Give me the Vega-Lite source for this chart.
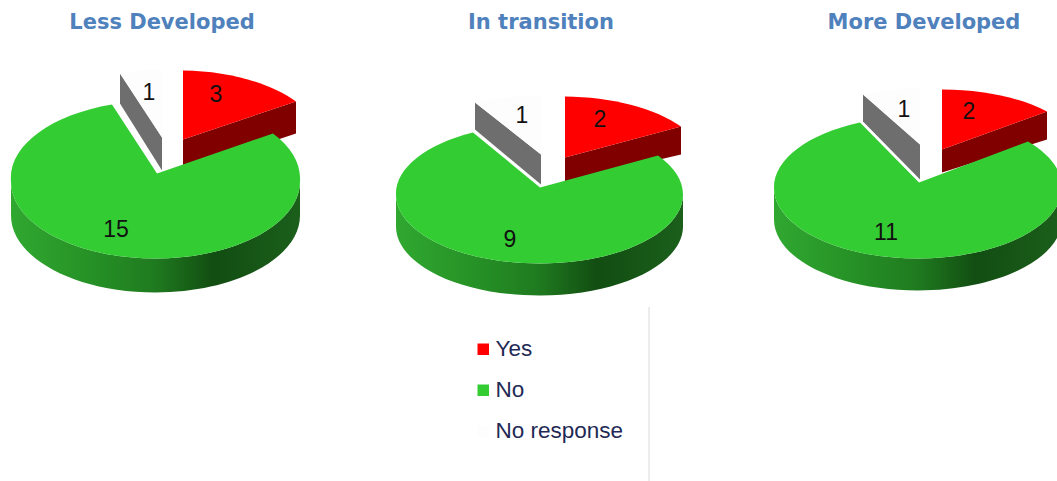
{"$schema":"https://vega.github.io/schema/vega-lite/v6.json","width":1057,"height":481,"padding":0,"autosize":{"type":"fit","contains":"padding"},"background":"white","config":{"view":{"stroke":null}},
"datasets":{"slices":[
{"region":"Less Developed","response":"Yes","count":3},{"region":"Less Developed","response":"No","count":15},{"region":"Less Developed","response":"No response","count":1},
{"region":"In transition","response":"Yes","count":2},{"region":"In transition","response":"No","count":9},{"region":"In transition","response":"No response","count":1},
{"region":"More Developed","response":"Yes","count":2},{"region":"More Developed","response":"No","count":11},{"region":"More Developed","response":"No response","count":1}],
"regions":[{"region":"Less Developed"},{"region":"In transition"},{"region":"More Developed"}]},
"encoding":{"x":{"field":"region","type":"nominal","axis":null,"sort":null,"scale":{"type":"point","domain":["Less Developed","In transition","More Developed"],"range":[162,924],"padding":0}}},
"layer":[
{"data":{"name":"slices"},"transform":[{"filter":"datum.response!='No'"},{"calculate":"datum.region+'|'+datum.response+'|side'","as":"part"}],"mark":{"type":"point","filled":true,"opacity":1,"size":4,"strokeWidth":0},
"encoding":{"shape":{"field":"part","type":"nominal","legend":null,"scale":{"domain":["Less Developed|Yes|side","Less Developed|No response|side","In transition|Yes|side","In transition|No response|side","More Developed|Yes|side","More Developed|No response|side","Less Developed|Yes|top","Less Developed|No response|top","In transition|Yes|top","In transition|No response|top","More Developed|Yes|top","More Developed|No response|top","Less Developed|No|side","In transition|No|side","More Developed|No|side","Less Developed|No|top","In transition|No|top","More Developed|No|top"],
"range":["M21 -100.5 L134 -138.5 L134 -106.5 L21 -68.5 Z","M-42 -166.5 L0 -102.5 L0 -69.5 L-42 -136.5 Z","M22 -82.5 L138 -113.5 L138 -85.5 L22 -58.5 Z","M-68 -137.5 L-2 -85.5 L-2 -55.5 L-68 -110.5 Z","M18 -90.5 L123 -128.5 L123 -100.5 L18 -67.5 Z","M-61 -145.5 L-4 -95.5 L-4 -60.5 L-61 -118.5 Z",
"M21 -100.5 L21 -169.5 A144.5 77 0 0 1 134 -138.5 Z","M0 -102.5 L-42 -166.5 A144.5 77 0 0 1 0 -170.5 Z","M22 -82.5 L22 -143.5 A143.5 69 0 0 1 138 -113.5 Z","M-2 -85.5 L-68 -137.5 A143.5 69 0 0 1 -2 -144.5 Z","M18 -90.5 L18 -150.5 A144 71 0 0 1 123 -128.5 Z","M-4 -95.5 L-61 -145.5 A144 71 0 0 1 -4 -152.5 Z",
"M-151 -58.5 A144.5 77 0 0 0 -6.5 18.5 A144.5 77 0 0 0 138 -58.5 L138 -24.5 A144.5 77 0 0 1 -6.5 52.5 A144.5 77 0 0 1 -151 -24.5 Z","M-147 -45.5 A143.5 69 0 0 0 -3 23.5 A143.5 69 0 0 0 140 -45.5 L140 -13.5 A143.5 69 0 0 1 -3 55.5 A143.5 69 0 0 1 -147 -13.5 Z","M-150 -52.5 A144 71 0 0 0 -6 18.5 A144 71 0 0 0 138 -52.5 L138 -20.5 A144 71 0 0 1 -6 50.5 A144 71 0 0 1 -150 -20.5 Z",
"M-5 -66.5 L111 -106.5 A144.5 77 0 0 1 138 -58.5 A144.5 77 0 0 1 -6.5 18.5 A144.5 77 0 0 1 -151 -58.5 A144.5 77 0 0 1 -50 -135.5 Z","M-3 -52.5 L115 -84.5 A143.5 69 0 0 1 140 -45.5 A143.5 69 0 0 1 -3 23.5 A143.5 69 0 0 1 -147 -45.5 A143.5 69 0 0 1 -70 -107.5 Z","M-5 -57.5 L104 -98.5 A144 71 0 0 1 138 -52.5 A144 71 0 0 1 -6 18.5 A144 71 0 0 1 -150 -52.5 A144 71 0 0 1 -64 -117.5 Z"]}},
"fill":{"field":"response","type":"nominal","legend":null,"scale":{"domain":["Yes","No response"],"range":["#800000","#6e6e6e"]}}}},
{"data":{"name":"slices"},"transform":[{"filter":"datum.response!='No'"},{"calculate":"datum.region+'|'+datum.response+'|top'","as":"part"}],"mark":{"type":"point","filled":true,"opacity":1,"size":4,"strokeWidth":0},
"encoding":{"shape":{"field":"part","type":"nominal","legend":null},"color":{"field":"response","type":"nominal","scale":{"domain":["Yes","No","No response"],"range":["#ff0000","#33cc33","#fdfdfd"]},"legend":{"title":null,"orient":"none","legendX":472,"legendY":338,"symbolType":"square","symbolSize":132,"symbolStrokeWidth":0,"labelFont":"Liberation Sans","labelFontSize":22.5,"labelColor":"#1f2a55","labelOffset":1,"rowPadding":18,"labelLimit":300}}}},
{"data":{"name":"slices"},"transform":[{"filter":"datum.response=='No'"},{"calculate":"datum.region+'|'+datum.response+'|side'","as":"part"}],"mark":{"type":"point","filled":true,"opacity":1,"size":4,"strokeWidth":0,"fill":{"gradient":"linear","x1":0,"y1":0,"x2":1,"y2":0,"stops":[{"offset":0,"color":"#30a830"},{"offset":0.3,"color":"#258f25"},{"offset":0.5,"color":"#1f7a1f"},{"offset":0.7,"color":"#124d12"},{"offset":1,"color":"#1b5f1b"}]}},
"encoding":{"shape":{"field":"part","type":"nominal","legend":null}}},
{"data":{"name":"slices"},"transform":[{"filter":"datum.response=='No'"},{"calculate":"datum.region+'|'+datum.response+'|top'","as":"part"}],"mark":{"type":"point","filled":true,"opacity":1,"size":4,"strokeWidth":0},
"encoding":{"shape":{"field":"part","type":"nominal","legend":null},"color":{"field":"response","type":"nominal"}}},
{"data":{"name":"slices"},"transform":[{"filter":"datum.region=='Less Developed'&&datum.response=='Yes'"}],"mark":{"type":"text","font":"Liberation Sans","fontSize":23,"color":"#111111","dx":54,"dy":-145.5},"encoding":{"text":{"field":"count","type":"quantitative"}}},
{"data":{"name":"slices"},"transform":[{"filter":"datum.region=='Less Developed'&&datum.response=='No response'"}],"mark":{"type":"text","font":"Liberation Sans","fontSize":23,"color":"#111111","dx":-13,"dy":-147.5},"encoding":{"text":{"field":"count","type":"quantitative"}}},
{"data":{"name":"slices"},"transform":[{"filter":"datum.region=='Less Developed'&&datum.response=='No'"}],"mark":{"type":"text","font":"Liberation Sans","fontSize":23,"color":"#111111","dx":-46,"dy":-10.5},"encoding":{"text":{"field":"count","type":"quantitative"}}},
{"data":{"name":"slices"},"transform":[{"filter":"datum.region=='In transition'&&datum.response=='Yes'"}],"mark":{"type":"text","font":"Liberation Sans","fontSize":23,"color":"#111111","dx":57,"dy":-120.5},"encoding":{"text":{"field":"count","type":"quantitative"}}},
{"data":{"name":"slices"},"transform":[{"filter":"datum.region=='In transition'&&datum.response=='No response'"}],"mark":{"type":"text","font":"Liberation Sans","fontSize":23,"color":"#111111","dx":-21,"dy":-124.5},"encoding":{"text":{"field":"count","type":"quantitative"}}},
{"data":{"name":"slices"},"transform":[{"filter":"datum.region=='In transition'&&datum.response=='No'"}],"mark":{"type":"text","font":"Liberation Sans","fontSize":23,"color":"#111111","dx":-33,"dy":-0.5},"encoding":{"text":{"field":"count","type":"quantitative"}}},
{"data":{"name":"slices"},"transform":[{"filter":"datum.region=='More Developed'&&datum.response=='Yes'"}],"mark":{"type":"text","font":"Liberation Sans","fontSize":23,"color":"#111111","dx":45,"dy":-128.5},"encoding":{"text":{"field":"count","type":"quantitative"}}},
{"data":{"name":"slices"},"transform":[{"filter":"datum.region=='More Developed'&&datum.response=='No response'"}],"mark":{"type":"text","font":"Liberation Sans","fontSize":23,"color":"#111111","dx":-20,"dy":-130.5},"encoding":{"text":{"field":"count","type":"quantitative"}}},
{"data":{"name":"slices"},"transform":[{"filter":"datum.region=='More Developed'&&datum.response=='No'"}],"mark":{"type":"text","font":"Liberation Sans","fontSize":23,"color":"#111111","dx":-38,"dy":-7.5},"encoding":{"text":{"field":"count","type":"quantitative"}}},
{"data":{"name":"regions"},"transform":[{"filter":"datum.region!='In transition'"}],"mark":{"type":"text","font":"DejaVu Sans","fontWeight":"bold","fontSize":21,"color":"#4f81bd","dy":-217},"encoding":{"text":{"field":"region","type":"nominal"}}},
{"data":{"name":"regions"},"transform":[{"filter":"datum.region=='In transition'"}],"mark":{"type":"text","font":"DejaVu Sans","fontWeight":"bold","fontSize":21,"color":"#4f81bd","dx":-2,"dy":-217},"encoding":{"text":{"field":"region","type":"nominal"}}},
{"data":{"name":"regions"},"transform":[{"filter":"datum.region=='In transition'"}],"mark":{"type":"rule","color":"#d9d9d9","strokeWidth":1,"xOffset":106},"encoding":{"y":{"value":307},"y2":{"value":481}}}
]}
